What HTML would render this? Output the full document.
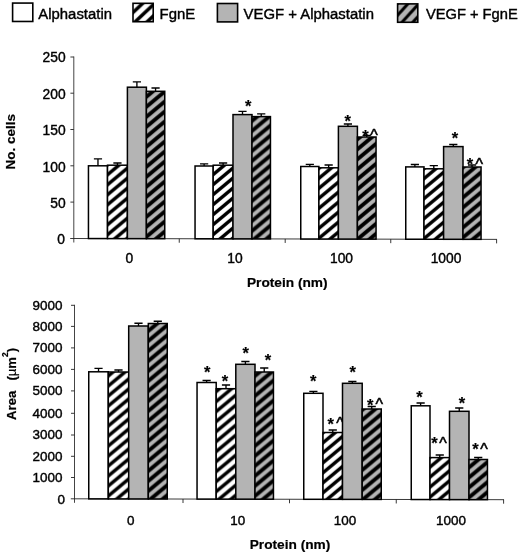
<!DOCTYPE html>
<html lang="en">
<head>
<meta charset="utf-8">
<title>Alphastatin / FgnE bar charts</title>
<style>
html,body{margin:0;padding:0;background:#fff;}
body{width:520px;height:554px;overflow:hidden;}
svg{display:block;filter:blur(0.4px);}
svg text{font-family:"Liberation Sans", sans-serif;fill:#000;stroke:#000;stroke-width:0.4px;}
svg text[font-weight="bold"]{stroke-width:0.2px;}
</style>
</head>
<body>
<svg width="520" height="554" viewBox="0 0 520 554">
<defs>
<pattern id="h0" patternUnits="userSpaceOnUse" width="12.0" height="10.0" patternTransform="translate(0.5 3.9)"><rect width="12.0" height="10.0" fill="#fff"/><path d="M-24.00 20.00L12.00 -10.00M-12.00 20.00L24.00 -10.00M0.00 20.00L36.00 -10.00" stroke="#000" stroke-width="3.4" fill="none"/></pattern>
<pattern id="h1" patternUnits="userSpaceOnUse" width="12.0" height="10.0" patternTransform="translate(3.2 6.15)"><rect width="12.0" height="10.0" fill="#b4b4b4"/><path d="M-24.00 20.00L12.00 -10.00M-12.00 20.00L24.00 -10.00M0.00 20.00L36.00 -10.00" stroke="#000" stroke-width="3.9" fill="none"/></pattern>
<pattern id="h2" patternUnits="userSpaceOnUse" width="12.0" height="10.0" patternTransform="translate(9.85 4.0)"><rect width="12.0" height="10.0" fill="#fff"/><path d="M-24.00 20.00L12.00 -10.00M-12.00 20.00L24.00 -10.00M0.00 20.00L36.00 -10.00" stroke="#000" stroke-width="3.4" fill="none"/></pattern>
<pattern id="h3" patternUnits="userSpaceOnUse" width="12.0" height="10.0" patternTransform="translate(0.5 0.5)"><rect width="12.0" height="10.0" fill="#b4b4b4"/><path d="M-24.00 20.00L12.00 -10.00M-12.00 20.00L24.00 -10.00M0.00 20.00L36.00 -10.00" stroke="#000" stroke-width="3.9" fill="none"/></pattern>
<pattern id="h4" patternUnits="userSpaceOnUse" width="12.0" height="10.0" patternTransform="translate(7.2 8.1)"><rect width="12.0" height="10.0" fill="#fff"/><path d="M-24.00 20.00L12.00 -10.00M-12.00 20.00L24.00 -10.00M0.00 20.00L36.00 -10.00" stroke="#000" stroke-width="3.4" fill="none"/></pattern>
<pattern id="h5" patternUnits="userSpaceOnUse" width="12.0" height="10.0" patternTransform="translate(9.85 8.9)"><rect width="12.0" height="10.0" fill="#b4b4b4"/><path d="M-24.00 20.00L12.00 -10.00M-12.00 20.00L24.00 -10.00M0.00 20.00L36.00 -10.00" stroke="#000" stroke-width="3.9" fill="none"/></pattern>
<pattern id="h6" patternUnits="userSpaceOnUse" width="12.0" height="10.0" patternTransform="translate(4.85 7.9)"><rect width="12.0" height="10.0" fill="#fff"/><path d="M-24.00 20.00L12.00 -10.00M-12.00 20.00L24.00 -10.00M0.00 20.00L36.00 -10.00" stroke="#000" stroke-width="3.4" fill="none"/></pattern>
<pattern id="h7" patternUnits="userSpaceOnUse" width="12.0" height="10.0" patternTransform="translate(7.85 6.7)"><rect width="12.0" height="10.0" fill="#b4b4b4"/><path d="M-24.00 20.00L12.00 -10.00M-12.00 20.00L24.00 -10.00M0.00 20.00L36.00 -10.00" stroke="#000" stroke-width="3.9" fill="none"/></pattern>
<pattern id="h8" patternUnits="userSpaceOnUse" width="12.0" height="10.0" patternTransform="translate(0.6 5.7)"><rect width="12.0" height="10.0" fill="#fff"/><path d="M-24.00 20.00L12.00 -10.00M-12.00 20.00L24.00 -10.00M0.00 20.00L36.00 -10.00" stroke="#000" stroke-width="3.4" fill="none"/></pattern>
<pattern id="h9" patternUnits="userSpaceOnUse" width="12.0" height="10.0" patternTransform="translate(4.85 0.5)"><rect width="12.0" height="10.0" fill="#b4b4b4"/><path d="M-24.00 20.00L12.00 -10.00M-12.00 20.00L24.00 -10.00M0.00 20.00L36.00 -10.00" stroke="#000" stroke-width="3.9" fill="none"/></pattern>
<pattern id="h10" patternUnits="userSpaceOnUse" width="12.0" height="10.0" patternTransform="translate(0.5 1.3)"><rect width="12.0" height="10.0" fill="#fff"/><path d="M-24.00 20.00L12.00 -10.00M-12.00 20.00L24.00 -10.00M0.00 20.00L36.00 -10.00" stroke="#000" stroke-width="3.4" fill="none"/></pattern>
<pattern id="h11" patternUnits="userSpaceOnUse" width="12.0" height="10.0" patternTransform="translate(3.5 5.5)"><rect width="12.0" height="10.0" fill="#b4b4b4"/><path d="M-24.00 20.00L12.00 -10.00M-12.00 20.00L24.00 -10.00M0.00 20.00L36.00 -10.00" stroke="#000" stroke-width="3.9" fill="none"/></pattern>
<pattern id="h12" patternUnits="userSpaceOnUse" width="12.0" height="10.0" patternTransform="translate(10.9 2.8)"><rect width="12.0" height="10.0" fill="#fff"/><path d="M-24.00 20.00L12.00 -10.00M-12.00 20.00L24.00 -10.00M0.00 20.00L36.00 -10.00" stroke="#000" stroke-width="3.4" fill="none"/></pattern>
<pattern id="h13" patternUnits="userSpaceOnUse" width="12.0" height="10.0" patternTransform="translate(2.85 9.5)"><rect width="12.0" height="10.0" fill="#b4b4b4"/><path d="M-24.00 20.00L12.00 -10.00M-12.00 20.00L24.00 -10.00M0.00 20.00L36.00 -10.00" stroke="#000" stroke-width="3.9" fill="none"/></pattern>
<pattern id="h14" patternUnits="userSpaceOnUse" width="12.0" height="10.0" patternTransform="translate(10.3 6.8)"><rect width="12.0" height="10.0" fill="#fff"/><path d="M-24.00 20.00L12.00 -10.00M-12.00 20.00L24.00 -10.00M0.00 20.00L36.00 -10.00" stroke="#000" stroke-width="3.4" fill="none"/></pattern>
<pattern id="h15" patternUnits="userSpaceOnUse" width="12.0" height="10.0" patternTransform="translate(1.1 7.4)"><rect width="12.0" height="10.0" fill="#b4b4b4"/><path d="M-24.00 20.00L12.00 -10.00M-12.00 20.00L24.00 -10.00M0.00 20.00L36.00 -10.00" stroke="#000" stroke-width="3.9" fill="none"/></pattern>
<pattern id="lw" patternUnits="userSpaceOnUse" width="12" height="11.3" patternTransform="translate(2.28 0)"><rect width="12" height="11.3" fill="#fff"/><path d="M-24.00 22.60L12.00 -11.30M-12.00 22.60L24.00 -11.30M0.00 22.60L36.00 -11.30" stroke="#000" stroke-width="3.5" fill="none"/></pattern>
<pattern id="lg" patternUnits="userSpaceOnUse" width="10.8" height="11.9" patternTransform="translate(1.0 0)"><rect width="10.8" height="11.9" fill="#b4b4b4"/><path d="M-21.60 23.80L10.80 -11.90M-10.80 23.80L21.60 -11.90M0.00 23.80L32.40 -11.90" stroke="#000" stroke-width="3.1" fill="none"/></pattern>
</defs>
<rect width="520" height="554" fill="#fff"/>
<text x="248.25" y="111.88" font-size="16.5" font-weight="bold" text-anchor="middle">*</text>
<text x="347.75" y="126.88" font-size="16.5" font-weight="bold" text-anchor="middle">*</text>
<text x="365.50" y="141.50" font-size="16.5" font-weight="bold" text-anchor="middle">*</text>
<text x="374.00" y="141.20" font-size="16" text-anchor="middle" style="stroke-width:0.55px">^</text>
<text x="455.00" y="144.25" font-size="16.5" font-weight="bold" text-anchor="middle">*</text>
<text x="470.00" y="170.25" font-size="16.5" font-weight="bold" text-anchor="middle">*</text>
<text x="479.25" y="170.07" font-size="16" text-anchor="middle" style="stroke-width:0.55px">^</text>
<text x="207.25" y="377.88" font-size="16.5" font-weight="bold" text-anchor="middle">*</text>
<text x="225.00" y="386.50" font-size="16.5" font-weight="bold" text-anchor="middle">*</text>
<text x="245.75" y="359.00" font-size="16.5" font-weight="bold" text-anchor="middle">*</text>
<text x="268.00" y="365.88" font-size="16.5" font-weight="bold" text-anchor="middle">*</text>
<text x="313.25" y="386.50" font-size="16.5" font-weight="bold" text-anchor="middle">*</text>
<text x="330.75" y="430.25" font-size="16.5" font-weight="bold" text-anchor="middle">*</text>
<text x="340.00" y="429.45" font-size="16" text-anchor="middle" style="stroke-width:0.55px">^</text>
<text x="352.75" y="378.38" font-size="16.5" font-weight="bold" text-anchor="middle">*</text>
<text x="370.25" y="411.38" font-size="16.5" font-weight="bold" text-anchor="middle">*</text>
<text x="379.25" y="410.45" font-size="16" text-anchor="middle" style="stroke-width:0.55px">^</text>
<text x="419.50" y="403.38" font-size="16.5" font-weight="bold" text-anchor="middle">*</text>
<text x="434.50" y="449.00" font-size="16.5" font-weight="bold" text-anchor="middle">*</text>
<text x="443.00" y="448.70" font-size="16" text-anchor="middle" style="stroke-width:0.55px">^</text>
<text x="462.00" y="409.00" font-size="16.5" font-weight="bold" text-anchor="middle">*</text>
<text x="475.50" y="455.25" font-size="16.5" font-weight="bold" text-anchor="middle">*</text>
<text x="484.00" y="454.70" font-size="16" text-anchor="middle" style="stroke-width:0.55px">^</text>
<rect x="12.6" y="3.07" width="20.2" height="18.4" fill="#fff" stroke="#000" stroke-width="1.6"/>
<text x="38.3" y="19" font-size="14.9">Alphastatin</text>
<rect x="133" y="3.32" width="20.2" height="18.4" fill="url(#lw)" stroke="#000" stroke-width="1.6"/>
<text x="159.6" y="19" font-size="14.9">FgnE</text>
<rect x="217.4" y="3.50" width="20.2" height="18.4" fill="#b4b4b4" stroke="#000" stroke-width="1.6"/>
<text x="243.6" y="19" font-size="14.9">VEGF + Alphastatin</text>
<rect x="397.6" y="3.88" width="20.2" height="18.4" fill="url(#lg)" stroke="#000" stroke-width="1.6"/>
<text x="425.9" y="18.8" font-size="14.7">VEGF + FgnE</text>
<path d="M73.8 56.5V242.5" stroke="#222" stroke-width="0.85" fill="none"/>
<path d="M70.2 238.5L497 239.39" stroke="#222" stroke-width="0.9" fill="none"/>
<path d="M70.4 57H73.8" stroke="#222" stroke-width="0.9"/>
<text x="65.6" y="62.3" font-size="13.8" text-anchor="end">250</text>
<path d="M70.4 93.2H73.8" stroke="#222" stroke-width="0.9"/>
<text x="65.6" y="98.7" font-size="13.8" text-anchor="end">200</text>
<path d="M70.4 129.5H73.8" stroke="#222" stroke-width="0.9"/>
<text x="65.6" y="135.3" font-size="13.8" text-anchor="end">150</text>
<path d="M70.4 165.8H73.8" stroke="#222" stroke-width="0.9"/>
<text x="65.6" y="172.1" font-size="13.8" text-anchor="end">100</text>
<path d="M70.4 202.1H73.8" stroke="#222" stroke-width="0.9"/>
<text x="65.6" y="208.0" font-size="13.8" text-anchor="end">50</text>
<text x="65.0" y="244.3" font-size="13.8" text-anchor="end">0</text>
<path d="M179.25 238.72V242.72" stroke="#222" stroke-width="0.9"/>
<path d="M285.2 238.94V242.94" stroke="#222" stroke-width="0.9"/>
<path d="M390.75 239.17V243.17" stroke="#222" stroke-width="0.9"/>
<path d="M496.6 239.39V243.39" stroke="#222" stroke-width="0.9"/>
<rect x="88.45" y="165.80" width="19.05" height="72.75" fill="#fff" stroke="#000" stroke-width="1.5"/>
<path d="M97.97 165.80V158.80M93.88 158.80H102.07" stroke="#000" stroke-width="1.35" fill="none"/>
<rect x="107.50" y="165.20" width="19.90" height="73.39" fill="url(#h0)" stroke="#000" stroke-width="1.5"/>
<path d="M117.45 165.20V163.00M113.35 163.00H121.55" stroke="#000" stroke-width="1.35" fill="none"/>
<rect x="127.40" y="87.20" width="19.00" height="151.43" fill="#b4b4b4" stroke="#000" stroke-width="1.5"/>
<path d="M136.90 87.20V81.80M132.80 81.80H141.00" stroke="#000" stroke-width="1.35" fill="none"/>
<rect x="146.40" y="91.30" width="18.35" height="147.37" fill="url(#h1)" stroke="#000" stroke-width="1.5"/>
<path d="M155.57 91.30V88.00M151.47 88.00H159.67" stroke="#000" stroke-width="1.35" fill="none"/>
<rect x="195.05" y="166.00" width="18.15" height="72.77" fill="#fff" stroke="#000" stroke-width="1.5"/>
<path d="M204.12 166.00V163.80M200.03 163.80H208.22" stroke="#000" stroke-width="1.35" fill="none"/>
<rect x="213.20" y="165.20" width="19.80" height="73.61" fill="url(#h2)" stroke="#000" stroke-width="1.5"/>
<path d="M223.10 165.20V163.00M219.00 163.00H227.20" stroke="#000" stroke-width="1.35" fill="none"/>
<rect x="233.00" y="114.60" width="19.00" height="124.25" fill="#b4b4b4" stroke="#000" stroke-width="1.5"/>
<path d="M242.50 114.60V111.30M238.40 111.30H246.60" stroke="#000" stroke-width="1.35" fill="none"/>
<rect x="252.00" y="116.60" width="18.45" height="122.29" fill="url(#h3)" stroke="#000" stroke-width="1.5"/>
<path d="M261.23 116.60V113.80M257.12 113.80H265.33" stroke="#000" stroke-width="1.35" fill="none"/>
<rect x="300.75" y="166.50" width="18.15" height="72.50" fill="#fff" stroke="#000" stroke-width="1.5"/>
<path d="M309.82 166.50V164.30M305.72 164.30H313.93" stroke="#000" stroke-width="1.35" fill="none"/>
<rect x="318.90" y="167.80" width="19.50" height="71.23" fill="url(#h4)" stroke="#000" stroke-width="1.5"/>
<path d="M328.65 167.80V165.00M324.55 165.00H332.75" stroke="#000" stroke-width="1.35" fill="none"/>
<rect x="338.40" y="126.30" width="19.00" height="112.78" fill="#b4b4b4" stroke="#000" stroke-width="1.5"/>
<path d="M347.90 126.30V124.00M343.80 124.00H352.00" stroke="#000" stroke-width="1.35" fill="none"/>
<rect x="357.40" y="137.00" width="18.65" height="102.11" fill="url(#h5)" stroke="#000" stroke-width="1.5"/>
<path d="M366.73 137.00V135.30M362.62 135.30H370.83" stroke="#000" stroke-width="1.35" fill="none"/>
<rect x="405.75" y="166.90" width="18.25" height="72.32" fill="#fff" stroke="#000" stroke-width="1.5"/>
<path d="M414.88 166.90V164.50M410.77 164.50H418.98" stroke="#000" stroke-width="1.35" fill="none"/>
<rect x="424.00" y="168.80" width="19.60" height="70.46" fill="url(#h6)" stroke="#000" stroke-width="1.5"/>
<path d="M433.80 168.80V165.60M429.70 165.60H437.90" stroke="#000" stroke-width="1.35" fill="none"/>
<rect x="443.60" y="146.60" width="19.40" height="92.70" fill="#b4b4b4" stroke="#000" stroke-width="1.5"/>
<path d="M453.30 146.60V144.50M449.20 144.50H457.40" stroke="#000" stroke-width="1.35" fill="none"/>
<rect x="463.00" y="167.00" width="18.05" height="72.34" fill="url(#h7)" stroke="#000" stroke-width="1.5"/>
<path d="M472.02 167.00V165.00M467.92 165.00H476.12" stroke="#000" stroke-width="1.35" fill="none"/>
<text x="129.3" y="263.4" font-size="13.8" text-anchor="middle">0</text>
<text x="235.0" y="263.4" font-size="13.8" text-anchor="middle">10</text>
<text x="341.5" y="263.4" font-size="13.8" text-anchor="middle">100</text>
<text x="446" y="263.4" font-size="13.8" text-anchor="middle">1000</text>
<text x="287.3" y="287.2" font-size="13.7" font-weight="bold" text-anchor="middle">Protein (nm)</text>
<text transform="translate(15.4 141.7) rotate(-90)" font-size="13.5" font-weight="bold" text-anchor="middle">No. cells</text>
<path d="M74.5 304.8V502.8" stroke="#222" stroke-width="0.85" fill="none"/>
<path d="M70.8 498.8L504 499.70" stroke="#222" stroke-width="0.9" fill="none"/>
<text x="65" y="504.1" font-size="13.45" text-anchor="end">0</text>
<path d="M71 477.50H74.5" stroke="#222" stroke-width="0.9"/>
<text x="62.4" y="481.9" font-size="13.45" text-anchor="end">1000</text>
<path d="M71 456.30H74.5" stroke="#222" stroke-width="0.9"/>
<text x="62.4" y="460.7" font-size="13.45" text-anchor="end">2000</text>
<path d="M71 435.00H74.5" stroke="#222" stroke-width="0.9"/>
<text x="62.4" y="439.4" font-size="13.45" text-anchor="end">3000</text>
<path d="M71 413.30H74.5" stroke="#222" stroke-width="0.9"/>
<text x="62.4" y="417.7" font-size="13.45" text-anchor="end">4000</text>
<path d="M71 390.90H74.5" stroke="#222" stroke-width="0.9"/>
<text x="62.4" y="395.3" font-size="13.45" text-anchor="end">5000</text>
<path d="M71 369.40H74.5" stroke="#222" stroke-width="0.9"/>
<text x="62.4" y="373.8" font-size="13.45" text-anchor="end">6000</text>
<path d="M71 347.90H74.5" stroke="#222" stroke-width="0.9"/>
<text x="62.4" y="352.3" font-size="13.45" text-anchor="end">7000</text>
<path d="M71 326.40H74.5" stroke="#222" stroke-width="0.9"/>
<text x="62.4" y="330.8" font-size="13.45" text-anchor="end">8000</text>
<path d="M71 305.30H74.5" stroke="#222" stroke-width="0.9"/>
<text x="62.4" y="309.7" font-size="13.45" text-anchor="end">9000</text>
<path d="M183 499.03V503.03" stroke="#222" stroke-width="0.9"/>
<path d="M289.5 499.25V503.25" stroke="#222" stroke-width="0.9"/>
<path d="M396.25 499.48V503.48" stroke="#222" stroke-width="0.9"/>
<path d="M503.6 499.70V503.70" stroke="#222" stroke-width="0.9"/>
<rect x="88.75" y="371.80" width="19.55" height="127.05" fill="#fff" stroke="#000" stroke-width="1.5"/>
<path d="M98.53 371.80V368.30M94.43 368.30H102.62" stroke="#000" stroke-width="1.35" fill="none"/>
<rect x="108.30" y="372.00" width="20.40" height="126.89" fill="url(#h8)" stroke="#000" stroke-width="1.5"/>
<path d="M118.50 372.00V370.00M114.40 370.00H122.60" stroke="#000" stroke-width="1.35" fill="none"/>
<rect x="128.70" y="326.00" width="19.60" height="172.94" fill="#b4b4b4" stroke="#000" stroke-width="1.5"/>
<path d="M138.50 326.00V323.20M134.40 323.20H142.60" stroke="#000" stroke-width="1.35" fill="none"/>
<rect x="148.30" y="323.50" width="18.95" height="175.48" fill="url(#h9)" stroke="#000" stroke-width="1.5"/>
<path d="M157.78 323.50V321.20M153.68 321.20H161.88" stroke="#000" stroke-width="1.35" fill="none"/>
<rect x="197.05" y="382.50" width="19.15" height="116.58" fill="#fff" stroke="#000" stroke-width="1.5"/>
<path d="M206.62 382.50V380.50M202.53 380.50H210.72" stroke="#000" stroke-width="1.35" fill="none"/>
<rect x="216.20" y="388.70" width="19.60" height="110.42" fill="url(#h10)" stroke="#000" stroke-width="1.5"/>
<path d="M226.00 388.70V385.00M221.90 385.00H230.10" stroke="#000" stroke-width="1.35" fill="none"/>
<rect x="235.80" y="364.30" width="19.20" height="134.86" fill="#b4b4b4" stroke="#000" stroke-width="1.5"/>
<path d="M245.40 364.30V361.50M241.30 361.50H249.50" stroke="#000" stroke-width="1.35" fill="none"/>
<rect x="255.00" y="372.00" width="18.45" height="127.20" fill="url(#h11)" stroke="#000" stroke-width="1.5"/>
<path d="M264.23 372.00V368.00M260.12 368.00H268.33" stroke="#000" stroke-width="1.35" fill="none"/>
<rect x="303.75" y="393.30" width="19.25" height="106.00" fill="#fff" stroke="#000" stroke-width="1.5"/>
<path d="M313.38 393.30V391.30M309.27 391.30H317.48" stroke="#000" stroke-width="1.35" fill="none"/>
<rect x="323.00" y="432.50" width="19.50" height="66.84" fill="url(#h12)" stroke="#000" stroke-width="1.5"/>
<path d="M332.75 432.50V430.00M328.65 430.00H336.85" stroke="#000" stroke-width="1.35" fill="none"/>
<rect x="342.50" y="383.30" width="19.70" height="116.08" fill="#b4b4b4" stroke="#000" stroke-width="1.5"/>
<path d="M352.35 383.30V381.50M348.25 381.50H356.45" stroke="#000" stroke-width="1.35" fill="none"/>
<rect x="362.20" y="409.00" width="19.05" height="90.43" fill="url(#h13)" stroke="#000" stroke-width="1.5"/>
<path d="M371.73 409.00V406.50M367.62 406.50H375.83" stroke="#000" stroke-width="1.35" fill="none"/>
<rect x="411.25" y="405.80" width="18.75" height="93.73" fill="#fff" stroke="#000" stroke-width="1.5"/>
<path d="M420.62 405.80V403.00M416.52 403.00H424.73" stroke="#000" stroke-width="1.35" fill="none"/>
<rect x="430.00" y="457.60" width="19.50" height="41.97" fill="url(#h14)" stroke="#000" stroke-width="1.5"/>
<path d="M439.75 457.60V455.00M435.65 455.00H443.85" stroke="#000" stroke-width="1.35" fill="none"/>
<rect x="449.50" y="411.30" width="19.50" height="88.31" fill="#b4b4b4" stroke="#000" stroke-width="1.5"/>
<path d="M459.25 411.30V408.00M455.15 408.00H463.35" stroke="#000" stroke-width="1.35" fill="none"/>
<rect x="469.00" y="459.50" width="18.45" height="40.15" fill="url(#h15)" stroke="#000" stroke-width="1.5"/>
<path d="M478.23 459.50V457.50M474.12 457.50H482.33" stroke="#000" stroke-width="1.35" fill="none"/>
<text x="130.8" y="525" font-size="13.45" text-anchor="middle">0</text>
<text x="237.8" y="525" font-size="13.45" text-anchor="middle">10</text>
<text x="345" y="525" font-size="13.45" text-anchor="middle">100</text>
<text x="451" y="525" font-size="13.45" text-anchor="middle">1000</text>
<text x="290" y="549.2" font-size="13.7" font-weight="bold" text-anchor="middle">Protein (nm)</text>
<text transform="translate(15.5 419.9) rotate(-90)" font-size="13.1" font-weight="bold">Area</text>
<text transform="translate(15.5 380.6) rotate(-90)" font-size="13.1" font-weight="bold">(<tspan font-weight="normal">µ</tspan>m<tspan font-size="8.5" dy="-7.2">2</tspan><tspan dy="7.2">)</tspan></text>
</svg>
</body>
</html>
